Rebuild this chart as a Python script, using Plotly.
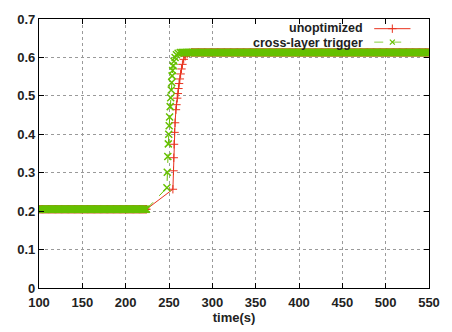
import plotly.graph_objects as go

# ---- data ----
LOW_LEVEL = 0.205
HIGH_LEVEL = 0.613

low_times = list(range(100, 225))          # 1 s samples before the event
unopt_rise_t = [254.5, 255.2, 255.5, 255.8, 256.4, 257.0, 258.0, 258.6, 259.5, 260.2,
                260.9, 261.6, 262.5, 263.4, 264.4, 265.5, 267.0, 268.8, 271.0, 273.5]
unopt_rise_v = [0.257, 0.305, 0.339, 0.374, 0.405, 0.430, 0.464, 0.477, 0.494, 0.506,
                0.519, 0.532, 0.544, 0.557, 0.570, 0.582, 0.595, 0.603, 0.609, 0.612]
unopt_high_t = list(range(276, 551))

cross_rise_t = [247.6, 248.0, 248.6, 249.2, 249.7, 250.2, 250.7, 251.4, 252.0, 252.6,
                253.1, 253.6, 254.2, 254.8, 255.8, 257.0, 258.6, 260.5, 263.0]
cross_rise_v = [0.261, 0.301, 0.342, 0.375, 0.400, 0.422, 0.445, 0.472, 0.495, 0.515,
                0.535, 0.552, 0.566, 0.578, 0.590, 0.600, 0.607, 0.611, 0.613]
cross_high_t = list(range(265, 551))

series_names = ["unoptimized", "cross-layer trigger"]
x_ticks = [100, 150, 200, 250, 300, 350, 400, 450, 500, 550]
y_ticks = [0, 0.1, 0.2, 0.3, 0.4, 0.5, 0.6, 0.7]
y_tick_text = ["0", "0.1", "0.2", "0.3", "0.4", "0.5", "0.6", "0.7"]

unopt_t = low_times + unopt_rise_t + unopt_high_t
unopt_v = [LOW_LEVEL] * len(low_times) + unopt_rise_v + [HIGH_LEVEL] * len(unopt_high_t)
cross_t = low_times + cross_rise_t + cross_high_t
cross_v = [LOW_LEVEL] * len(low_times) + cross_rise_v + [HIGH_LEVEL] * len(cross_high_t)

RED = "#e8321e"
GREEN = "#66c000"
FONT = dict(family="Liberation Sans, Arial, sans-serif", size=13, color="#222", weight="bold")
KEY_FONT = dict(FONT, size=12.5)

fig = go.Figure()
fig.add_trace(go.Scatter(
    x=unopt_t, y=unopt_v, mode="lines+markers", name=series_names[0],
    line=dict(color=RED, width=1),
    marker=dict(symbol="cross-thin", size=6, line=dict(color=RED, width=1)),
    showlegend=False))
fig.add_trace(go.Scatter(
    x=cross_t, y=cross_v, mode="lines+markers", name=series_names[1],
    line=dict(color=GREEN, width=1, dash="dash"),
    marker=dict(symbol="x-thin", size=7, line=dict(color=GREEN, width=1.5)),
    showlegend=False))

# legend samples (gnuplot style: text then sample) on an overlay axis
fig.add_trace(go.Scatter(
    x=[0.8595, 0.9525], y=[0.964, 0.964], xaxis="x2", yaxis="y2", mode="lines",
    line=dict(color=RED, width=1), showlegend=False, hoverinfo="skip"))
fig.add_trace(go.Scatter(
    x=[0.906], y=[0.964], xaxis="x2", yaxis="y2", mode="markers",
    marker=dict(symbol="cross-thin", size=6, line=dict(color=RED, width=1)),
    showlegend=False, hoverinfo="skip"))
fig.add_trace(go.Scatter(
    x=[0.8595, 0.9525], y=[0.914, 0.914], xaxis="x2", yaxis="y2", mode="lines",
    line=dict(color="#88d040", width=1, dash="dash"), showlegend=False, hoverinfo="skip"))
fig.add_trace(go.Scatter(
    x=[0.906], y=[0.914], xaxis="x2", yaxis="y2", mode="markers",
    marker=dict(symbol="x-thin", size=5, line=dict(color=GREEN, width=1.2)),
    showlegend=False, hoverinfo="skip"))

fig.add_annotation(x=0.836, y=0.966, xref="x2", yref="y2", text=series_names[0],
                   showarrow=False, xanchor="right", yanchor="middle", font=KEY_FONT)
fig.add_annotation(x=0.836, y=0.912, xref="x2", yref="y2", text=series_names[1],
                   showarrow=False, xanchor="right", yanchor="middle", font=KEY_FONT)

# opaque key box (hides grid behind the key, as in gnuplot)
fig.add_shape(type="rect", xref="x", yref="y", x0=338, x1=550, y0=0.622, y1=0.7,
              fillcolor="white", line=dict(width=0), layer="between")

axis_common = dict(
    showline=True, linecolor="black", linewidth=1.2, mirror="allticks",
    ticks="inside", ticklen=5, tickcolor="black", tickwidth=1,
    showgrid=True, gridcolor="#9a9a9a", griddash="dot", gridwidth=1,
    zeroline=False, tickfont=FONT,
)

fig.update_layout(
    width=452, height=332,
    margin=dict(l=39, r=19, t=12, b=43),
    paper_bgcolor="white", plot_bgcolor="white",
    xaxis=dict(range=[100, 550], tickvals=x_ticks, ticktext=[str(v) for v in x_ticks],
               ticklabelstandoff=2,
               title=dict(text="time(s)", font=FONT, standoff=1), **axis_common),
    yaxis=dict(range=[0, 0.7], tickvals=y_ticks, ticktext=y_tick_text, **axis_common),
    xaxis2=dict(overlaying="x", range=[0, 1], visible=False),
    yaxis2=dict(overlaying="y", range=[0, 1], visible=False),
    showlegend=False,
)

fig.write_html("out.html", config={"displayModeBar": False},
               post_script="document.body.style.margin='0';")
